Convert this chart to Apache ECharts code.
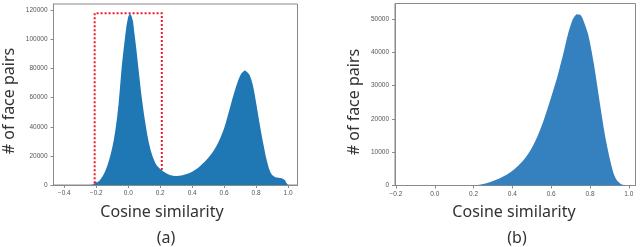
<!DOCTYPE html>
<html>
<head>
<meta charset="utf-8">
<script src="https://cdn.jsdelivr.net/npm/echarts@6/dist/echarts.min.js"></script>
<style>
html,body{margin:0;padding:0;background:#fff;}
#chart{width:640px;height:247px;}
</style>
</head>
<body>
<div id="chart"></div>
<script>
// ---------- data ----------
// (a) histogram: bins of width 0.01 starting at -0.40
const binStartA = -0.40;
const binStepA = 0.01;
const countsA = [
  0,0,0,0,0,0,0,0,0,0,0,0,0,0,0,0,            // -0.40 .. -0.25
  50,150,400,800,1300,2000,3000,4300,6000,8000, // -0.24 .. -0.15
  10500,13500,17000,21000,25500,31000,38000,46000,56000,69000, // -0.14 .. -0.05
  82000,92000,101500,110000,115500,118000,116000,112500,103000,94000, // -0.04 .. 0.05
  84000,74000,64000,55500,47500,40500,34000,28500,24000,20500, // 0.06 .. 0.15
  17500,15000,13200,12000,11000,10000,9200,8500,7900,7300,     // 0.16 .. 0.25
  6900,6500,6300,6200,6200,6250,6350,6500,6700,7000,           // 0.26 .. 0.35
  7300,7700,8100,8600,9100,9700,10400,11200,12100,13000,       // 0.36 .. 0.45
  14000,15000,16100,17200,18500,19900,21300,22900,24600,26400, // 0.46 .. 0.55
  28500,30800,33300,36000,39000,42500,46500,50500,54500,58500, // 0.56 .. 0.65
  62300,66000,69400,72500,75000,77000,78300,78800,78300,77000, // 0.66 .. 0.75
  75300,72500,68500,63000,56500,50000,43500,37000,31000,25500, // 0.76 .. 0.85
  20000,15500,11500,8500,6800,5900,5400,5200,5000,4900,        // 0.86 .. 0.95
  4700,4200,3400,1400,0                                        // 0.96 .. 1.00
];
// (b) histogram: bins of width 0.01 starting at 0.15
const binStartB = 0.15;
const binStepB = 0.01;
const countsB = [
  0,0,0,10,30,60,100,160,240,340,                              // 0.15 .. 0.24
  460,600,760,940,1130,1340,1560,1800,2050,2320,               // 0.25 .. 0.34
  2600,2900,3230,3580,3960,4380,4850,5350,5900,6500,           // 0.35 .. 0.44
  7150,7850,8600,9400,10300,11300,12400,13600,14900,16300,     // 0.45 .. 0.54
  17800,19400,21100,22900,24700,26600,28500,30400,32300,34500, // 0.55 .. 0.64
  36800,39000,41500,44000,46300,48200,49800,50800,51500,51700, // 0.65 .. 0.74
  51300,50500,49000,47300,45500,42900,39800,36500,32800,28900, // 0.75 .. 0.84
  25000,21300,17500,14200,11300,8500,6100,3800,2400,1400,      // 0.85 .. 0.94
  800,400,150,50,0,0                                           // 0.95 .. 1.00
];
// highlighted region in (a): [xFrom, yFrom], [xTo, yTo]
const boxA = [[-0.21, 1500], [0.21, 118000]];
// tick labels
const xTicksA = [-0.4, -0.2, 0.0, 0.2, 0.4, 0.6, 0.8, 1.0];
const yTicksA = [0, 20000, 40000, 60000, 80000, 100000, 120000];
const xTicksB = [-0.2, 0.0, 0.2, 0.4, 0.6, 0.8, 1.0];
const yTicksB = [0, 10000, 20000, 30000, 40000, 50000];
const xLabel = 'Cosine similarity';
const yLabel = '# of face pairs';
const panelLabels = ['(a)', '(b)'];

// ---------- build ----------
function pairs(start, step, vals) {
  return vals.map((v, i) => [+(start + i * step).toFixed(4), v]);
}
const tickFont = {fontFamily: 'Liberation Sans', fontSize: 6.5, color: '#555'};
const axisGrey = '#8a8a8a';
function fmtX(v){ return Number(v).toFixed(1).replace('-', '\u2212'); }

function xAxis(gi, min, max, ticks) {
  return {
    type: 'value', gridIndex: gi, min: min, max: max,
    axisLine: {show: true, onZero: false, lineStyle: {color: axisGrey, width: 1}},
    axisTick: {show: true, length: 3, lineStyle: {color: axisGrey}, customValues: ticks},
    axisLabel: Object.assign({margin: 5, customValues: ticks, formatter: fmtX}, tickFont),
    splitLine: {show: false}
  };
}
function yAxis(gi, min, max, ticks) {
  return {
    type: 'value', gridIndex: gi, min: min, max: max,
    axisLine: {show: true, onZero: false, lineStyle: {color: axisGrey, width: 1}},
    axisTick: {show: true, length: 3, lineStyle: {color: axisGrey}, customValues: ticks},
    axisLabel: Object.assign({margin: 6, customValues: ticks, formatter: v => String(v)}, tickFont),
    splitLine: {show: false}
  };
}

const labelFont = {fontFamily: 'Noto Sans', fontSize: 16, fill: '#333'};
function txt(x, y, s, rot, size) {
  return {
    type: 'text', x: x, y: y, rotation: rot || 0,
    style: Object.assign({}, labelFont, {text: s, fontSize: size || 16, textAlign: 'center', textVerticalAlign: 'middle'})
  };
}

const chart = echarts.init(document.getElementById('chart'), null, {renderer: 'canvas'});
chart.setOption({
  backgroundColor: '#fff',
  animation: false,
  grid: [
    {left: 53.5, top: 4, width: 244, height: 181, show: true, borderColor: axisGrey, borderWidth: 1, backgroundColor: 'transparent'},
    {left: 395, top: 3.5, width: 240.5, height: 182, show: true, borderColor: axisGrey, borderWidth: 1, backgroundColor: 'transparent'}
  ],
  xAxis: [
    xAxis(0, -0.4675, 1.059, xTicksA),
    xAxis(1, -0.205, 1.0345, xTicksB)
  ],
  yAxis: [
    yAxis(0, 0, 124300, yTicksA),
    yAxis(1, 0, 54700, yTicksB)
  ],
  series: [
    {
      type: 'line', xAxisIndex: 0, yAxisIndex: 0,
      data: pairs(binStartA, binStepA, countsA),
      showSymbol: false, symbol: 'none', smooth: false,
      lineStyle: {width: 0, color: '#1f77b4'},
      areaStyle: {color: '#1f77b4', opacity: 1},
      z: 2,
      markArea: {
        silent: true,
        itemStyle: {color: 'rgba(0,0,0,0)', borderColor: '#ee1c25', borderWidth: 2, borderType: [2, 2]},
        data: [[{coord: boxA[0]}, {coord: boxA[1]}]]
      }
    },
    {
      type: 'line', xAxisIndex: 1, yAxisIndex: 1,
      data: pairs(binStartB, binStepB, countsB),
      showSymbol: false, symbol: 'none', smooth: false,
      lineStyle: {width: 0, color: '#3580bf'},
      areaStyle: {color: '#3580bf', opacity: 1},
      z: 2
    }
  ],
  graphic: [
    txt(162, 212, xLabel),
    txt(166, 238, panelLabels[0]),
    txt(9, 101, yLabel, Math.PI / 2),
    txt(514, 212, xLabel),
    txt(517, 238, panelLabels[1]),
    txt(354, 102, yLabel, Math.PI / 2)
  ]
});
</script>
</body>
</html>
